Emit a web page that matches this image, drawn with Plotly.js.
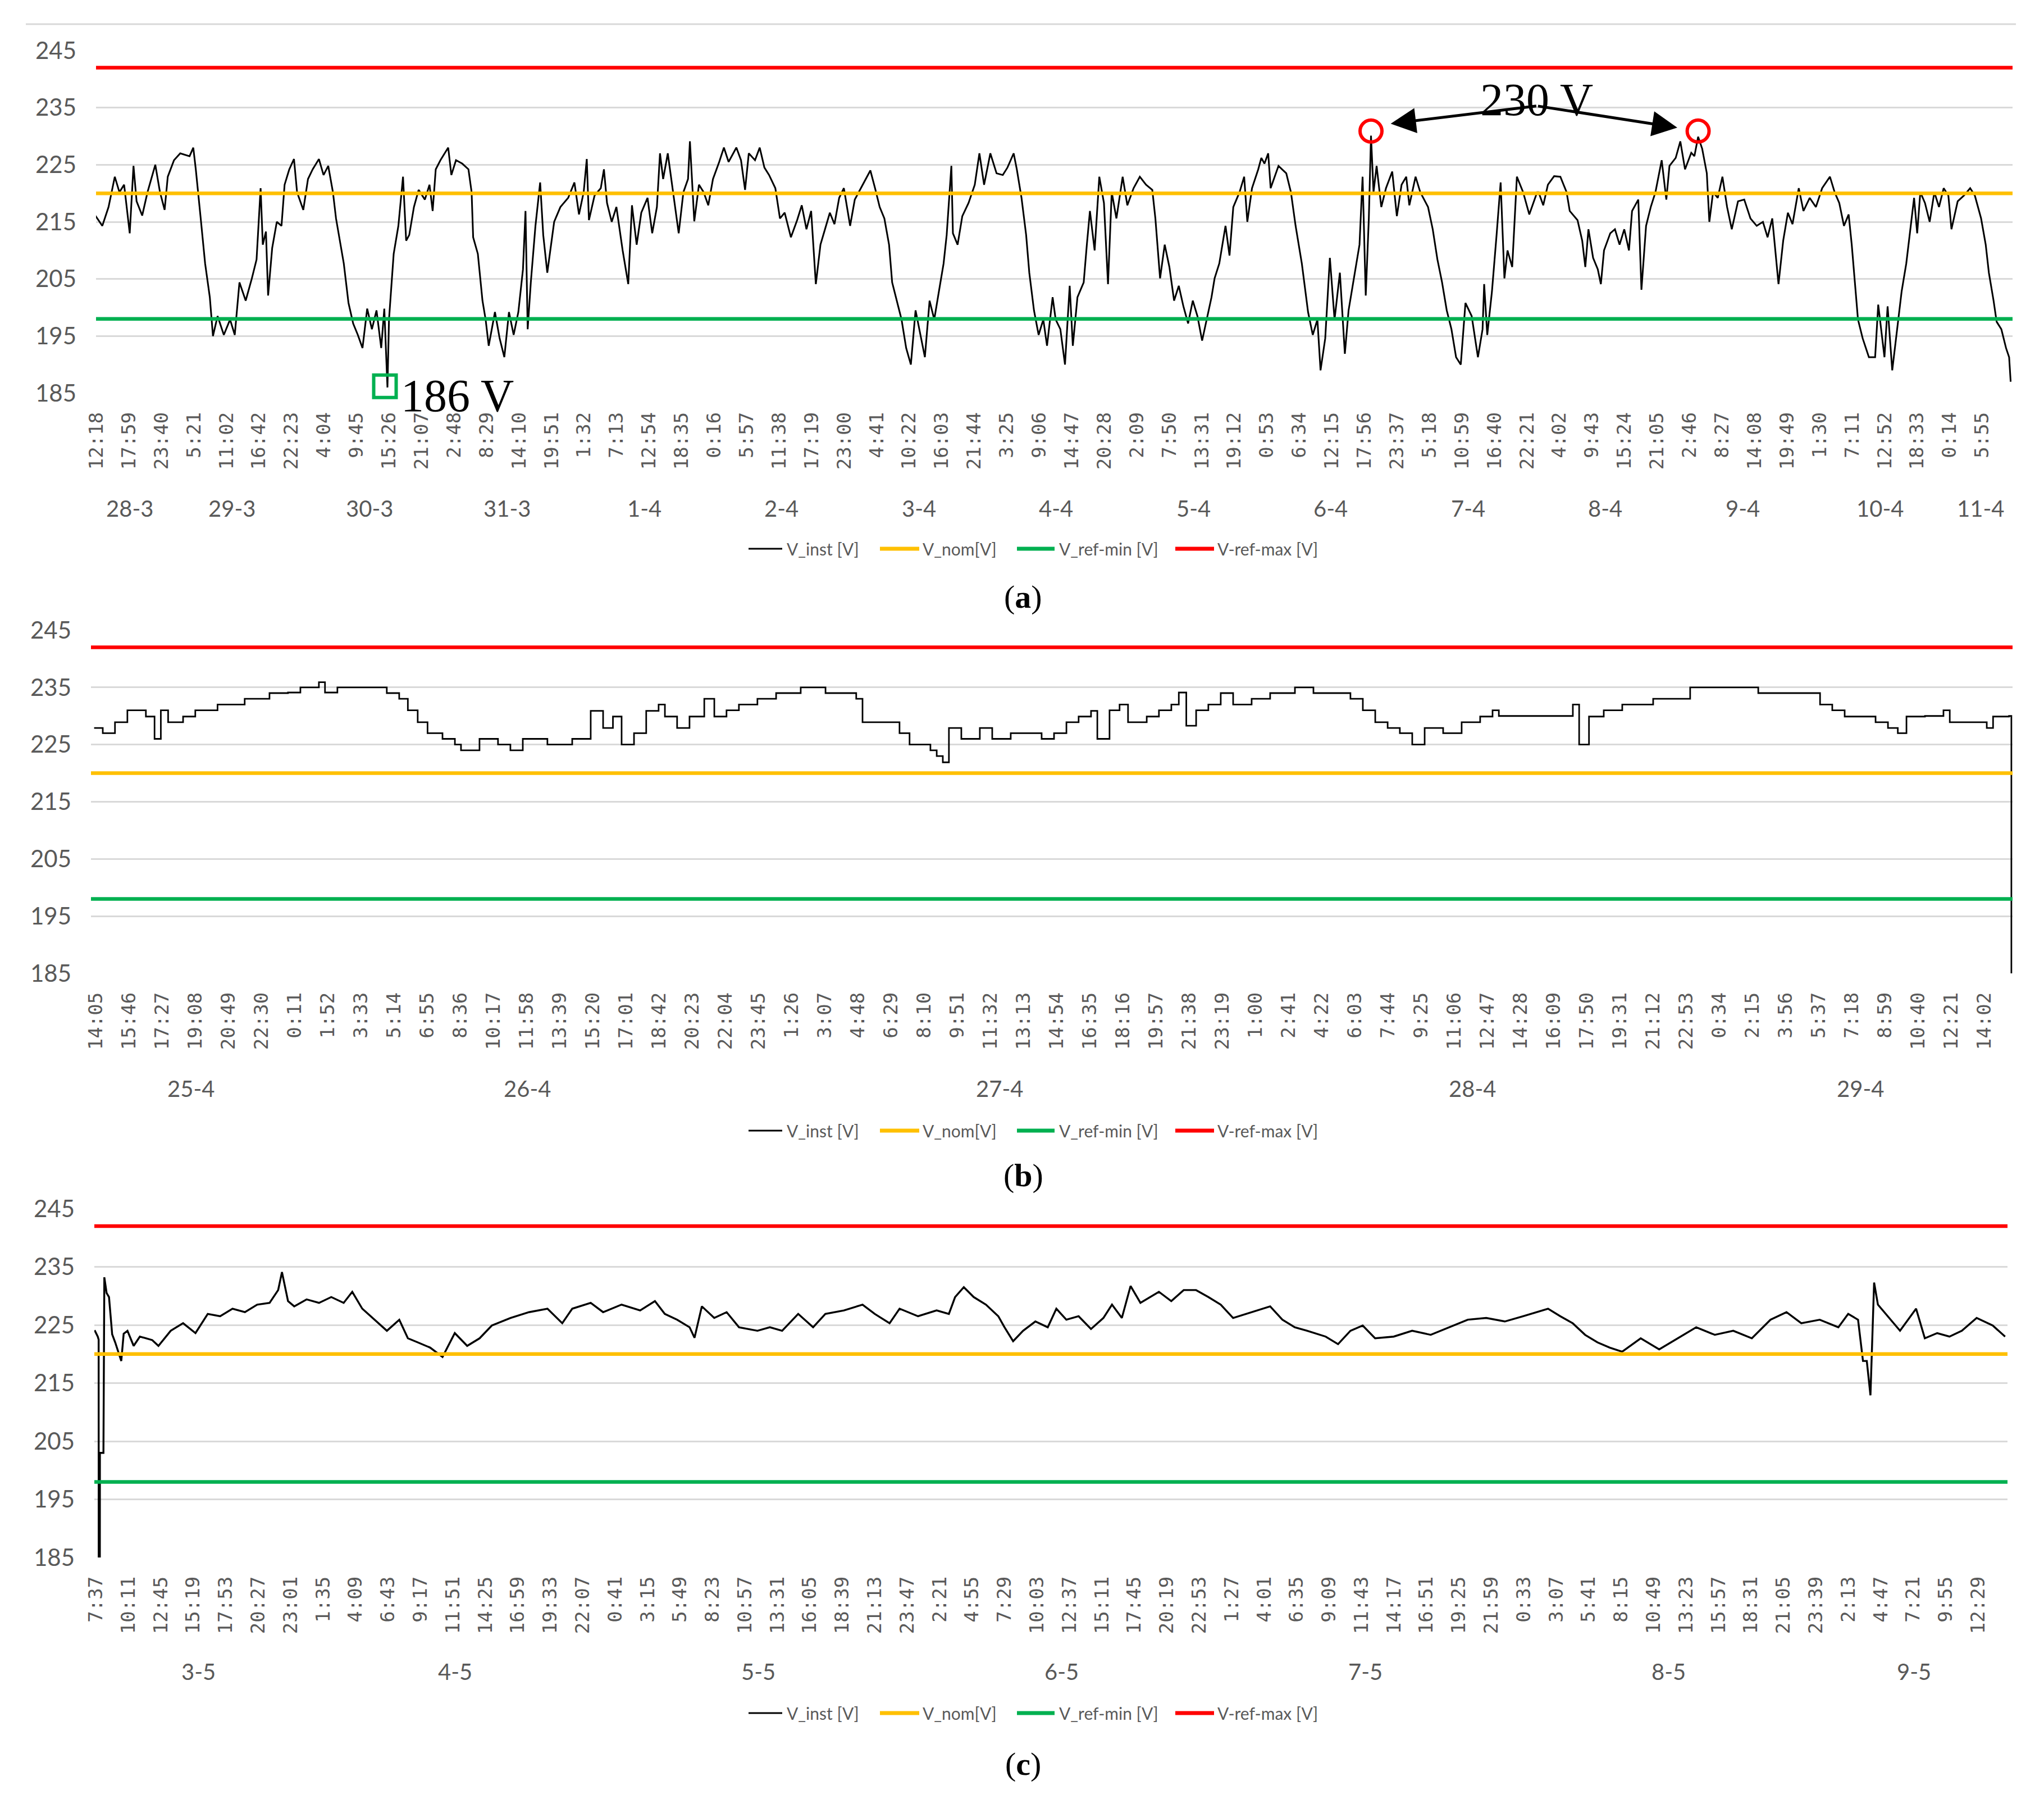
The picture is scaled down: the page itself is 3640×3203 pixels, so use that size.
<!DOCTYPE html>
<html><head><meta charset="utf-8">
<script src="https://cdn.plot.ly/plotly-3.0.1.min.js"></script>
<style>html,body{margin:0;padding:0;background:#fff}#chart{width:3640px;height:3203px}</style>
</head><body><div id="chart"></div>
<script>
// ================= DATA =================
const seriesNames = ['V_inst [V]', 'V_nom[V]', 'V_ref-min [V]', 'V-ref-max [V]'];
const vNom = 220, vRefMin = 198, vRefMax = 242;
const yTicks = [185, 195, 205, 215, 225, 235, 245];

// ---- panel (a): 28-3 .. 11-4 (hours from 28-3 00:00) ----
const aTickLabels = ['12:18','17:59','23:40','5:21','11:02','16:42','22:23','4:04','9:45','15:26','21:07','2:48','8:29','14:10','19:51','1:32','7:13','12:54','18:35','0:16','5:57','11:38','17:19','23:00','4:41','10:22','16:03','21:44','3:25','9:06','14:47','20:28','2:09','7:50','13:31','19:12','0:53','6:34','12:15','17:56','23:37','5:18','10:59','16:40','22:21','4:02','9:43','15:24','21:05','2:46','8:27','14:08','19:49','1:30','7:11','12:52','18:33','0:14','5:55'];
const aDayLabels = ['28-3','29-3','30-3','31-3','1-4','2-4','3-4','4-4','5-4','6-4','7-4','8-4','9-4','10-4','11-4'];
const aHours = [
11.94,13.30,14.39,15.48,16.29,17.11,18.09,18.75,19.29,20.27,21.20,22.56,23.38,24.19,24.74,25.83,26.92,28.55,29.20,29.64,
30.46,31.27,32.09,32.64,33.45,34.54,35.63,36.45,37.27,38.36,39.44,40.26,40.97,41.35,41.90,42.28,42.99,43.80,44.62,45.16,
45.98,46.80,47.34,48.43,49.25,50.07,51.16,51.97,52.79,53.61,54.15,54.70,55.51,56.33,57.15,57.96,58.78,59.60,60.42,61.23,
62.05,62.59,63.14,63.41,63.68,64.23,65.05,65.86,66.41,66.95,67.77,68.59,69.68,70.49,71.04,71.58,72.40,73.76,74.31,75.12,
76.21,77.30,77.85,78.12,78.94,79.75,80.30,80.84,81.93,82.75,83.57,84.38,85.20,86.02,86.83,87.27,87.65,88.20,89.01,89.83,
90.37,91.08,92.28,93.37,94.73,95.82,
96.62,97.44,97.98,98.36,99.34,100.43,100.98,101.52,102.34,103.16,104.25,105.23,105.88,106.70,107.51,108.60,109.42,110.24,110.78,111.33,
112.14,112.96,114.05,114.87,115.68,116.01,116.77,117.59,118.41,119.22,120.04,121.13,121.95,122.77,124.13,124.94,125.65,126.30,127.39,128.21,
129.03,129.85,130.94,131.75,132.57,133.66,134.75,135.56,136.38,137.20,138.02,138.83,139.65,140.47,141.28,142.10,142.92,144.01,144.83,145.91,
146.73,147.55,148.37,149.18,150.00,150.82,151.36,152.18,153.00,153.81,154.63,155.45,156.27,157.08,157.90,158.72,159.53,160.35,160.89,161.71,
161.98,162.80,163.62,164.71,165.80,166.61,167.43,168.52,169.61,170.70,171.51,172.60,173.15,173.97,174.78,175.33,176.15,176.96,177.78,178.43,
179.41,
179.94,180.76,181.57,182.39,182.94,183.75,184.84,185.39,185.93,186.75,187.57,188.38,189.09,189.74,190.56,191.65,192.47,193.56,194.65,195.74,
196.83,197.37,198.19,199.00,199.82,200.64,201.46,202.27,203.09,203.91,204.72,205.54,206.36,207.18,207.72,208.54,209.63,210.33,210.99,212.08,
212.89,213.44,214.26,215.35,215.89,216.44,217.09,217.52,218.89,220.25,221.06,221.88,222.97,224.06,224.88,225.69,226.24,227.06,227.87,228.69,
229.62,230.49,231.14,232.23,233.05,233.59,234.14,234.68,235.06,235.50,236.04,236.86,237.68,238.77,239.58,240.40,241.22,241.76,242.85,243.67,
245.03,245.85,246.67,247.48,248.30,249.12,249.93,250.75,251.57,252.66,253.75,254.56,254.84,255.38,256.20,257.01,257.72,258.38,258.92,259.74,
260.56,261.65,262.73,264.10,
264.35,265.17,265.98,267.07,268.16,269.25,269.80,271.16,271.98,272.52,273.07,273.88,274.70,275.24,275.79,276.88,277.70,278.51,279.33,280.15,
280.69,281.78,282.33,283.14,283.96,284.78,285.87,286.68,287.23,288.32,289.13,289.95,291.04,291.59,292.24,292.95,293.76,294.20,294.85,295.67,
296.49,297.30,298.12,299.21,300.30,301.39,302.48,303.57,304.38,305.20,305.75,306.29,307.11,307.93,308.74,309.83,310.65,311.74,312.83,313.92,
315.28,316.10,316.91,317.73,318.55,319.09,319.64,320.18,321.00,322.09,323.18,323.72,324.81,325.36,326.17,326.99,327.81,328.62,329.44,329.99,
330.53,331.08,331.89,332.71,333.53,334.34,335.16,335.98,336.52,337.61,338.70,339.79,340.61,341.70,342.51,343.06,343.88,344.42,345.24,346.06,
346.60,346.87];
const aVolts = [
216.3,214.3,217.6,222.9,220.2,221.5,213.0,224.8,218.6,216.1,220.2,225.0,220.2,217.1,222.9,225.8,227.0,226.5,228.0,224.2,
216.0,207.7,201.8,195.0,198.5,195.2,197.9,195.2,204.4,201.2,205.1,208.4,220.9,211.0,213.3,202.1,210.4,215.0,214.3,221.5,
224.2,226.0,220.2,217.1,222.5,224.2,226.0,223.2,224.8,220.2,215.6,212.3,207.7,200.8,197.2,195.2,192.9,199.8,196.2,199.5,
192.9,199.8,186.0,197.9,201.8,209.4,214.3,222.9,211.7,212.7,217.6,220.6,218.9,221.5,216.9,224.2,225.8,228.0,223.2,225.8,
225.2,224.2,220.2,212.3,209.4,201.2,197.9,193.3,199.2,194.6,191.3,199.2,195.2,199.2,206.7,216.9,196.2,204.4,214.3,221.9,
212.7,206.1,215.0,217.6,219.2,221.9,
216.3,220.2,226.0,215.3,219.6,220.9,224.2,218.3,215.0,217.6,210.0,204.1,217.9,211.0,216.6,219.2,213.0,217.6,227.0,222.5,
227.0,221.2,213.0,220.2,222.5,229.1,215.1,221.5,220.2,217.9,222.5,225.5,228.0,225.5,228.0,225.8,220.6,227.0,225.8,228.0,
224.5,223.2,220.9,215.6,216.6,212.3,215.3,217.9,213.7,216.9,204.1,211.0,213.7,216.6,214.6,219.2,220.9,214.3,218.9,220.9,
222.5,224.0,220.9,217.6,215.6,211.0,204.4,201.2,197.9,192.9,190.0,199.5,195.2,191.3,201.2,197.9,202.8,207.7,212.7,224.8,
213.0,211.0,216.0,218.3,221.5,227.0,221.5,227.0,223.5,223.2,224.5,227.0,224.2,219.2,212.7,206.1,199.5,195.2,197.9,193.3,
201.8,
197.9,196.2,190.0,203.8,193.3,201.8,204.4,211.0,216.9,210.0,222.9,218.3,204.1,220.2,215.6,222.9,217.9,220.9,222.9,221.5,
220.6,215.6,205.1,211.0,207.1,201.2,203.8,200.2,197.2,201.2,198.5,194.2,197.9,201.8,205.1,207.7,214.3,209.1,217.6,220.2,
222.9,215.0,220.9,224.2,226.2,225.2,227.0,220.9,224.8,223.5,220.2,214.3,207.7,199.2,195.2,197.9,189.0,194.6,208.7,197.9,
206.1,191.9,199.5,206.1,211.0,222.9,202.1,215.6,230.1,220.2,224.8,217.6,220.9,223.8,216.0,221.5,222.9,217.9,222.9,220.2,
217.6,213.7,208.4,204.4,199.5,196.2,191.3,190.0,200.8,198.5,191.3,196.2,204.1,195.2,202.8,212.7,221.9,205.1,210.0,207.1,
222.9,220.2,216.3,220.2,
220.2,217.9,221.5,223.0,222.9,220.2,216.9,215.3,211.7,207.1,213.7,208.7,206.7,204.1,210.0,213.0,213.7,211.0,213.7,210.0,
216.9,218.9,203.1,214.3,217.6,220.2,225.8,218.9,224.8,226.2,229.1,224.2,227.1,226.5,229.9,227.8,223.5,215.0,220.2,219.2,
222.9,217.6,213.7,218.6,218.9,215.6,214.3,215.0,212.3,215.6,210.0,204.1,211.7,216.6,214.6,220.9,216.9,219.2,217.6,220.9,
222.9,220.2,218.3,214.3,216.3,211.0,204.4,197.9,194.6,191.3,191.3,200.5,191.3,200.2,189.0,196.2,202.8,207.7,214.3,219.2,
213.0,220.2,218.3,215.0,220.2,217.6,220.9,219.6,213.7,218.6,219.6,220.9,219.6,215.6,211.0,206.1,201.2,197.5,196.2,192.9,
191.3,187.0];
// annotated extremes in (a)
const aMinHour = [62.7], aMinVolt = [186.2];
const aMaxHours = [235.06, 292.24], aMaxVolts = [230.9, 230.9];

// ---- panel (b): 25-4 .. 29-4 (hours from 25-4 00:00) ----
const bTickLabels = ['14:05','15:46','17:27','19:08','20:49','22:30','0:11','1:52','3:33','5:14','6:55','8:36','10:17','11:58','13:39','15:20','17:01','18:42','20:23','22:04','23:45','1:26','3:07','4:48','6:29','8:10','9:51','11:32','13:13','14:54','16:35','18:16','19:57','21:38','23:19','1:00','2:41','4:22','6:03','7:44','9:25','11:06','12:47','14:28','16:09','17:50','19:31','21:12','22:53','0:34','2:15','3:56','5:37','7:18','8:59','10:40','12:21','14:02'];
const bDayLabels = ['25-4','26-4','27-4','28-4','29-4'];
const bHours = [
13.99,14.43,15.05,15.68,16.31,16.62,17.06,17.38,17.75,18.51,19.13,19.76,20.26,21.02,21.64,22.27,22.90,23.84,24.47,25.41,
25.72,26.35,28.23,28.86,29.49,29.93,30.43,30.93,31.69,32.32,32.63,33.57,34.51,35.14,35.77,37.02,38.28,38.91,39.22,39.85,
40.35,40.79,41.42,42.04,42.67,42.99,43.61,44.24,44.99,45.50,46.12,46.75,47.69,48.64,49.89,51.15,52.09,52.71,53.03,54.60,
54.91,55.42,55.85,56.48,56.80,57.11,57.42,58.05,58.99,59.62,60.56,62.13,62.76,63.39,64.01,64.64,64.96,65.58,66.09,66.52,
67.47,68.09,68.72,69.10,69.48,69.98,70.60,71.23,71.86,72.80,73.74,75.00,75.94,77.20,77.82,78.45,79.08,79.71,80.33,80.96,
81.59,82.53,83.47,84.41,85.04,85.36,88.81,89.12,89.44,89.94,90.69,91.63,92.45,93.20,94.14,95.08,96.34,97.91,98.54,99.79,
101.05,101.68,102.30,102.93,103.87,104.50,105.13,105.63,106.07,107.01,107.95,108.27,109.52,110.15,110.47,111.28,111.40];
const bVolts = [
227.9,227.0,228.9,231.0,231.0,229.9,226.0,231.0,228.9,229.9,231.0,231.0,232.0,232.0,233.0,233.0,234.0,234.1,235.0,235.9,
234.1,235.0,235.0,234.0,233.0,231.0,228.9,227.0,226.0,225.0,224.0,226.0,225.0,224.0,226.0,225.0,226.0,226.0,230.9,227.9,
229.9,225.0,227.0,230.9,232.0,229.9,227.9,229.9,233.0,229.9,231.0,232.0,233.0,234.0,235.0,234.0,234.0,233.0,228.9,228.9,
227.0,225.0,225.0,224.0,223.0,221.9,227.9,226.0,227.9,226.0,227.0,226.0,227.0,228.9,229.9,230.9,226.0,231.0,232.0,228.9,
229.9,231.0,232.0,234.1,228.3,231.0,232.0,234.0,232.0,233.0,234.0,235.0,234.0,234.0,233.0,231.0,228.9,227.9,227.0,225.0,
227.9,227.0,228.9,229.9,231.0,230.0,230.0,232.0,225.0,229.9,231.0,232.0,232.0,233.0,233.0,235.0,235.0,235.0,234.0,234.0,
234.0,232.0,231.0,229.9,229.9,228.9,227.9,227.0,229.9,230.0,231.0,228.9,228.9,227.9,229.9,230.0,0];

// ---- panel (c): 3-5 .. 9-5 (hours from 3-5 00:00) ----
const cTickLabels = ['7:37','10:11','12:45','15:19','17:53','20:27','23:01','1:35','4:09','6:43','9:17','11:51','14:25','16:59','19:33','22:07','0:41','3:15','5:49','8:23','10:57','13:31','16:05','18:39','21:13','23:47','2:21','4:55','7:29','10:03','12:37','15:11','17:45','20:19','22:53','1:27','4:01','6:35','9:09','11:43','14:17','16:51','19:25','21:59','0:33','3:07','5:41','8:15','10:49','13:23','15:57','18:31','21:05','23:39','2:13','4:47','7:21','9:55','12:29'];
const cDayLabels = ['3-5','4-5','5-5','6-5','7-5','8-5','9-5'];
const cHours = [
7.50,7.75,7.82,7.86,7.92,8.20,8.27,8.45,8.64,8.89,9.13,9.61,9.80,10.10,10.59,11.08,12.06,12.55,13.52,14.50,
15.48,16.45,17.43,18.41,19.39,20.36,21.34,22.02,22.32,22.80,23.29,24.27,25.25,26.22,27.20,27.88,28.67,29.64,30.62,31.60,
32.28,33.06,34.04,35.02,35.99,36.97,37.95,38.92,40.39,41.86,43.32,44.49,45.28,46.74,47.72,49.18,50.65,51.82,52.60,53.58,
54.56,54.95,55.53,56.51,57.49,58.47,59.93,60.91,61.88,63.15,64.33,65.30,66.77,68.24,69.21,70.38,71.17,72.63,74.10,75.07,
75.56,76.25,77.03,78.00,78.98,79.47,80.15,80.94,81.91,82.89,83.57,84.36,85.33,86.31,87.29,87.97,88.75,89.44,90.22,91.68,
92.66,93.64,94.62,95.59,96.57,97.55,99.01,100.48,101.45,102.43,103.41,104.87,105.85,106.83,107.80,108.78,110.25,111.71,113.18,114.64,
116.11,117.57,119.04,120.50,122.46,123.43,124.41,125.39,126.37,127.34,128.32,129.79,131.25,132.72,134.18,135.65,137.11,138.58,140.05,141.32,
142.49,143.95,145.42,146.20,146.98,147.37,147.67,147.96,148.25,148.55,149.33,150.30,151.57,152.26,153.24,154.21,155.19,156.36,157.63,158.61];
const cVolts = [
224.1,223.0,222.5,0,203.0,203.0,233.2,230.5,229.8,223.4,222.0,218.8,223.5,224.0,221.4,223.0,222.4,221.4,224.0,225.3,
223.6,226.9,226.5,227.8,227.2,228.5,228.8,231.0,234.1,229.1,228.2,229.4,228.8,229.8,228.8,230.7,227.8,225.9,224.0,225.9,
222.7,222.0,221.1,219.5,223.6,221.4,222.7,224.9,226.2,227.2,227.8,225.3,227.8,228.8,227.2,228.5,227.5,229.1,226.9,225.9,
224.6,222.8,228.2,226.2,227.2,224.6,224.0,224.6,224.0,226.9,224.6,226.9,227.5,228.5,226.9,225.3,227.8,226.5,227.5,226.9,
229.8,231.5,229.8,228.5,226.5,224.6,222.2,224.0,225.6,224.6,227.8,225.9,226.5,224.3,226.2,228.5,226.2,231.7,228.8,230.7,
229.1,231.0,231.0,229.8,228.5,226.2,227.2,228.2,225.9,224.6,224.0,223.0,221.7,224.0,224.9,222.7,223.0,224.0,223.3,224.6,
225.9,226.2,225.6,226.5,227.8,226.5,225.3,223.3,222.0,221.1,220.4,222.7,220.8,222.7,224.6,223.3,224.0,222.7,225.9,227.2,
225.3,225.9,224.6,226.9,225.9,218.8,218.8,212.9,232.3,228.5,226.5,224.0,227.8,222.7,223.6,223.0,224.0,226.2,224.9,223.0];

// ================= LAYOUT GEOMETRY =================
const W = 3640, H = 3203;
const px = v => v / W, py = v => 1 - v / H;
const panels = [
  {id: '', hours: aHours, volts: aVolts, ticks: aTickLabels, days: aDayLabels, range: [12.2, 347.2],
   left: 171, right: 3584, top: 90, bottom: 700, dayY: 905, legY: 977, capY: 1062, cap: 'a', shape: 'linear', lw: 3.0},
  {id: '2', hours: bHours, volts: bVolts, ticks: bTickLabels, days: bDayLabels, range: [13.83, 111.46],
   left: 162, right: 3584, top: 1122, bottom: 1733, dayY: 1938, legY: 2013, capY: 2092, cap: 'b', shape: 'hv', lw: 2.8},
  {id: '3', hours: cHours, volts: cVolts, ticks: cTickLabels, days: cDayLabels, range: [7.48, 158.8],
   left: 168, right: 3575, top: 2152, bottom: 2773, dayY: 2976, legY: 3050, capY: 3140, cap: 'c', shape: 'linear', lw: 3.4}
];
// legend item geometry (px): line start, line end, text start
const legendGeom = [[1333, 1393, 1399], [1567, 1637, 1641], [1811, 1878, 1884], [2093, 2162, 2166]];

function tickHours(labels) {
  let day = 0, prev = -1;
  return labels.map(s => {
    const p = s.split(':').map(Number);
    const m = p[0] * 60 + p[1];
    if (prev >= 0 && m < prev) day++;
    prev = m;
    return day * 24 + m / 60;
  });
}

const GRAY = '#595959';
const seriesColors = ['#000000', '#FFC000', '#00B050', '#FF0000'];
const refValues = [vNom, vRefMin, vRefMax];

const traces = [], annotations = [], shapes = [];
const layout = {
  width: W, height: H, margin: {l: 0, r: 0, t: 0, b: 0},
  paper_bgcolor: '#ffffff', plot_bgcolor: '#ffffff',
  font: {family: 'Lato, "Open Sans", sans-serif', color: GRAY},
  showlegend: false
};

panels.forEach((p) => {
  const xa = 'x' + p.id, ya = 'y' + p.id;
  traces.push({
    type: 'scatter', mode: 'lines', x: p.hours, y: p.volts, xaxis: xa, yaxis: ya,
    name: seriesNames[0], line: {color: seriesColors[0], width: p.lw, shape: p.shape}
  });
  refValues.forEach((v, k) => {
    traces.push({
      type: 'scatter', mode: 'lines', x: p.range, y: [v, v], xaxis: xa, yaxis: ya,
      name: seriesNames[k + 1], line: {color: seriesColors[k + 1], width: 6.5}
    });
  });

  const tv = tickHours(p.ticks);
  layout['xaxis' + p.id] = {
    domain: [px(p.left), px(p.right)], range: p.range, anchor: ya,
    tickmode: 'array', tickvals: tv, ticktext: p.ticks, tickangle: -90,
    tickfont: {family: '"DejaVu Sans Mono", monospace', size: 34, color: GRAY},
    showgrid: false, zeroline: false, showline: false, ticks: '', ticklabelstandoff: 26,
    fixedrange: true
  };
  layout['yaxis' + p.id] = {
    domain: [py(p.bottom), py(p.top)], range: [185, 245], anchor: xa,
    tickmode: 'array', tickvals: yTicks,
    showgrid: true, gridcolor: '#D9D9D9', gridwidth: 3,
    zeroline: false, showline: false, ticks: '', ticklabelstandoff: 34,
    tickfont: {family: 'Lato, sans-serif', size: 42, color: GRAY}, fixedrange: true
  };

  // legend (drawn as line keys + labels)
  legendGeom.forEach((g, k) => {
    shapes.push({type: 'line', xref: 'paper', yref: 'paper',
      x0: px(g[0]), x1: px(g[1]), y0: py(p.legY), y1: py(p.legY),
      line: {color: seriesColors[k], width: k === 0 ? 3 : 7}});
    annotations.push({text: seriesNames[k], xref: 'paper', yref: 'paper', x: px(g[2]), y: py(p.legY),
      xanchor: 'left', yanchor: 'middle', showarrow: false,
      font: {family: 'Lato, sans-serif', size: 30, color: GRAY}});
  });

  // second-level (day) category labels
  p.days.forEach((d, k) => {
    const a = Math.max(24 * k, p.range[0]), b = Math.min(24 * k + 24, p.range[1]);
    annotations.push({
      text: d, x: (a + b) / 2, xref: xa, y: py(p.dayY), yref: 'paper',
      showarrow: false, xanchor: 'center', yanchor: 'middle',
      font: {family: 'Lato, sans-serif', size: 40, color: GRAY}
    });
  });

  // caption
  annotations.push({
    text: '(<b>' + p.cap + '</b>)', x: 0.5006, xref: 'paper', y: py(p.capY), yref: 'paper',
    showarrow: false, xanchor: 'center', yanchor: 'middle',
    font: {family: '"Liberation Serif", "Times New Roman", serif', size: 58, color: '#000000'}
  });
});

// extreme markers on (a)
traces.push({
  type: 'scatter', mode: 'markers', x: aMinHour, y: aMinVolt, xaxis: 'x', yaxis: 'y',
  showlegend: false, cliponaxis: false,
  marker: {symbol: 'square-open', size: 40, color: '#00B050', line: {width: 6, color: '#00B050'}}
});
traces.push({
  type: 'scatter', mode: 'markers', x: aMaxHours, y: aMaxVolts, xaxis: 'x', yaxis: 'y',
  showlegend: false, cliponaxis: false,
  marker: {symbol: 'circle-open', size: 39, color: '#FF0000', line: {width: 6, color: '#FF0000'}}
});

const serif = '"Liberation Serif", "Times New Roman", serif';
annotations.push({
  text: '186 V', x: 65.3, xref: 'x', y: 186, yref: 'y', yshift: -15, showarrow: false,
  xanchor: 'left', yanchor: 'middle', font: {family: serif, size: 82, color: '#000000'}
});
annotations.push({
  text: '230 V', x: 264.05, xref: 'x', y: 236.35, yref: 'y', showarrow: false,
  xanchor: 'center', yanchor: 'middle', font: {family: serif, size: 82, color: '#000000'}
});
// arrows from the label to the two 230 V peaks
[[238.5, 232.2], [288.6, 231.5]].forEach(h => {
  annotations.push({
    text: '', x: h[0], y: h[1], xref: 'x', yref: 'y',
    ax: 264.1, ay: 235.3, axref: 'x', ayref: 'y',
    showarrow: true, arrowhead: 2, arrowsize: 1.8, arrowwidth: 5, arrowcolor: '#000000',
    standoff: 0, startstandoff: 0
  });
});

// thin top border of the figure frame
shapes.push({type: 'line', xref: 'paper', yref: 'paper', x0: px(46), x1: px(3590), y0: py(43), y1: py(43),
  line: {color: '#D9D9D9', width: 3}});

layout.annotations = annotations;
layout.shapes = shapes;

Plotly.newPlot('chart', traces, layout, {staticPlot: true, displayModeBar: false});
</script>
</body></html>
